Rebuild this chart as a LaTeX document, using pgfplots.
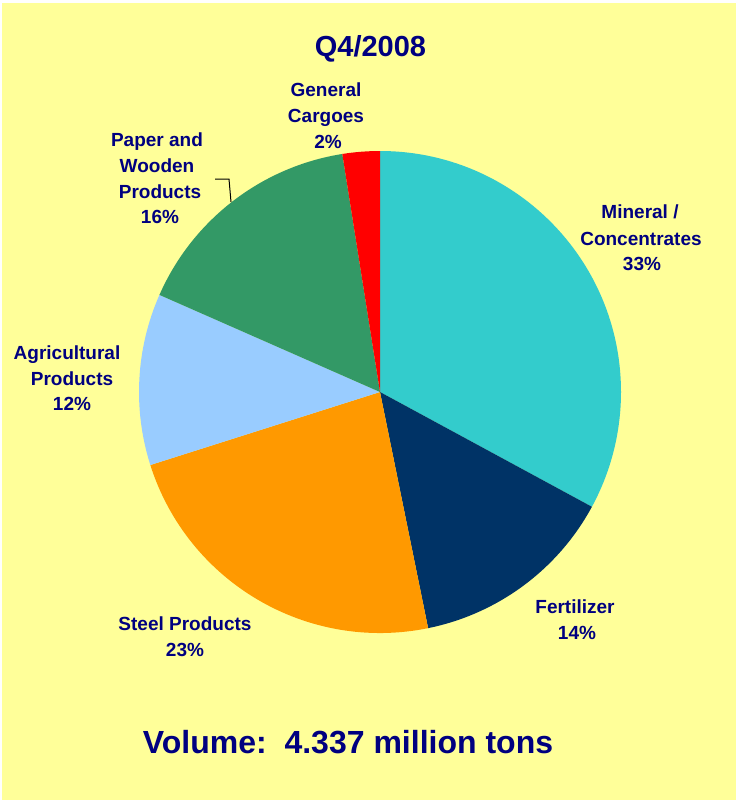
\documentclass[border=0pt]{standalone}
\usepackage{pgfplots}
\pgfplotsset{compat=1.18}
\usepackage{fontspec}
\setmainfont{Liberation Sans}
\definecolor{bg}{HTML}{FFFF99}
\definecolor{navy}{HTML}{000080}
\definecolor{cMin}{HTML}{33CCCC}
\definecolor{cFer}{HTML}{003366}
\definecolor{cSte}{HTML}{FF9900}
\definecolor{cAgr}{HTML}{99CCFF}
\definecolor{cPap}{HTML}{339966}
\definecolor{cGen}{HTML}{FF0000}
\begin{document}
\begin{tikzpicture}
% shares in percent (clockwise from 12 o'clock)
\def\vMin{32.9}
\def\vFer{13.9}
\def\vSte{23.3}
\def\vAgr{11.5}
\def\vPap{15.9}
\def\vGen{2.5}
\pgfmathsetmacro\aA{90-3.6*\vMin}
\pgfmathsetmacro\aB{\aA-3.6*\vFer}
\pgfmathsetmacro\aC{\aB-3.6*\vSte}
\pgfmathsetmacro\aD{\aC-3.6*\vAgr}
\pgfmathsetmacro\aE{\aD-3.6*\vPap}
\pgfmathsetmacro\aF{\aE-3.6*\vGen}
\def\R{180.75pt}
\begin{axis}[scale only axis, width=552pt, height=600pt,
  xmin=0, xmax=736, ymin=0, ymax=800, y dir=reverse,
  hide axis, clip=false]
\fill[white] (axis cs:0,0) rectangle (axis cs:736,800);
\fill[bg] (axis cs:2,3) rectangle (axis cs:736,800);
\fill[cMin] (axis cs:380,392) -- ++(90:\R) arc[start angle=90, end angle=\aA, radius=\R] -- cycle;
\fill[cFer] (axis cs:380,392) -- ++(\aA:\R) arc[start angle=\aA, end angle=\aB, radius=\R] -- cycle;
\fill[cSte] (axis cs:380,392) -- ++(\aB:\R) arc[start angle=\aB, end angle=\aC, radius=\R] -- cycle;
\fill[cAgr] (axis cs:380,392) -- ++(\aC:\R) arc[start angle=\aC, end angle=\aD, radius=\R] -- cycle;
\fill[cPap] (axis cs:380,392) -- ++(\aD:\R) arc[start angle=\aD, end angle=\aE, radius=\R] -- cycle;
\fill[cGen] (axis cs:380,392) -- ++(\aE:\R) arc[start angle=\aE, end angle=\aF, radius=\R] -- cycle;
\draw[black, line width=0.75pt] (axis cs:215,179) -- (axis cs:229,179) -- (axis cs:231,202);
\begin{scope}[every node/.style={anchor=base, inner sep=0pt, text=navy, font=\fontsize{14.25pt}{17pt}\selectfont\bfseries}]
\node at (axis cs:326,96.5) {General};
\node at (axis cs:326,122.5) {Cargoes};
\node at (axis cs:328,148.5) {2\%};
\node at (axis cs:157,146.5) {Paper and};
\node at (axis cs:157,172.5) {Wooden};
\node at (axis cs:160,198.5) {Products};
\node at (axis cs:160,223.5) {16\%};
\node at (axis cs:640,218.3) {Mineral /};
\node at (axis cs:641,245) {Concentrates};
\node at (axis cs:642,270.7) {33\%};
\node at (axis cs:67,359.5) {Agricultural};
\node at (axis cs:72,385.5) {Products};
\node at (axis cs:72,410.5) {12\%};
\node at (axis cs:575,613.5) {Fertilizer};
\node at (axis cs:577,639.5) {14\%};
\node at (axis cs:185,630.5) {Steel Products};
\node at (axis cs:185,656.5) {23\%};
\node[font=\fontsize{21.75pt}{26pt}\selectfont\bfseries] at (axis cs:370.5,56) {Q4/2008};
\node[font=\fontsize{24pt}{29pt}\selectfont\bfseries] at (axis cs:348,753) {Volume:\ \ 4.337 million tons};
\end{scope}
\end{axis}
\end{tikzpicture}
\end{document}
